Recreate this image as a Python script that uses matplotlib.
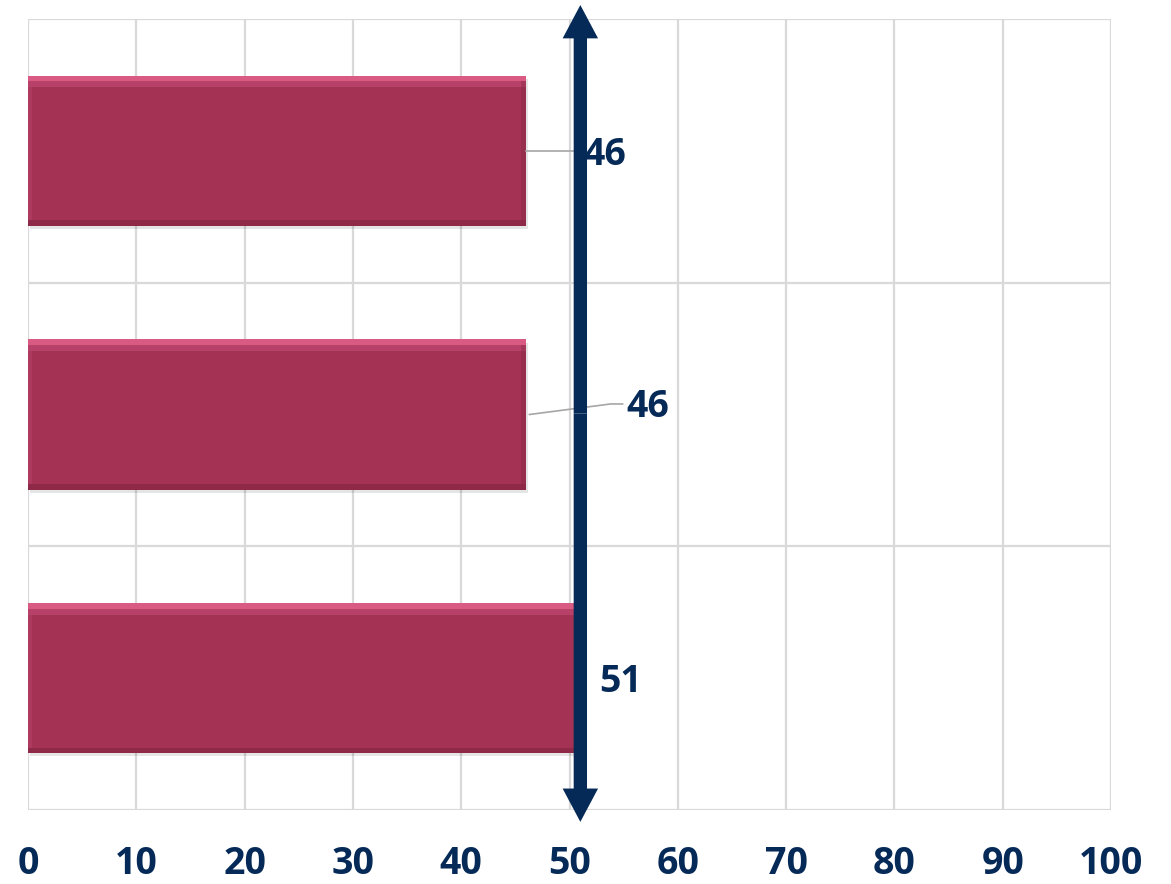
import matplotlib.pyplot as plt
from matplotlib.patches import FancyArrowPatch

plt.rcParams['font.family'] = ['Open Sans', 'DejaVu Sans']

# values, bottom bar first
values = [51, 46, 46]
ticks = list(range(0, 101, 10))
marker_value = 51

# where the value labels sit (x in data units, y offset from bar centre)
label_x = [54.7, 57.2, 53.3]
label_dy = [-0.015, 0.03, -0.015]

navy = '#052a57'
bar_col = '#a33254'
light = '#d95a82'
mid_light = '#b8416a'
dark = '#862844'
grid_col = '#d9d9d9'

fig = plt.figure(figsize=(11.71, 8.84), dpi=100)
ax = fig.add_axes([0.0239, 0.0837, 0.9249, 0.8948])

ys = list(range(len(values)))
h = 0.57
t = 0.022

# soft shadow under each bar
ax.barh([y - 0.012 for y in ys], values, height=h, left=0.15,
        color='#000000', alpha=0.10, zorder=2)
ax.barh(ys, values, height=h, color=bar_col, zorder=3)
# bevel strips
ax.barh([y + h / 2 - t / 2 for y in ys], values, height=t, color=light, zorder=4)
ax.barh([y + h / 2 - t * 1.5 for y in ys], values, height=t,
        color=mid_light, zorder=4)
ax.barh([y - h / 2 + t / 2 for y in ys], values, height=t, color=dark,
        alpha=0.7, zorder=4)
ax.barh(ys, [0.45] * len(values), height=h - 2 * t, left=[v - 0.45 for v in values],
        color=dark, alpha=0.4, zorder=4)
ax.barh(ys, [0.4] * len(values), height=h - 2 * t, left=0,
        color=mid_light, alpha=0.5, zorder=4)

ax.set_xlim(0, 100)
ax.set_ylim(-0.5, len(values) - 0.5)

ax.set_xticks(ticks)
ax.set_xticklabels([str(v) for v in ticks], fontsize=27, fontweight='bold', color=navy)
ax.tick_params(axis='x', length=0, pad=25)
ax.set_yticks([y + 0.5 for y in range(-1, len(values))])
ax.tick_params(axis='y', length=0, labelleft=False)
ax.grid(True, color=grid_col, linewidth=1.6, zorder=0)
ax.set_axisbelow(True)
for s in ax.spines.values():
    s.set_visible(False)

# value labels with leader lines
for y, v, lx, dy in zip(ys, values, label_x, label_dy):
    ax.text(lx, y + dy, str(v), fontsize=27, fontweight='bold', color=navy,
            ha='center', va='center', zorder=7)
ax.plot([values[2], 50.5], [2.0, 2.0], color='#a6a6a6', lw=1.2, zorder=5)
ax.plot([values[1] + 0.3, 53.8, 54.9], [1.0, 1.04, 1.04], color='#a6a6a6', lw=1.2, zorder=5)

# double-headed marker arrow, drawn as two filled arrows from the middle
top = len(values) - 0.5 + 0.053
bot = -0.5 - 0.045
mid = (top + bot) / 2
for end in (top, bot):
    arr = FancyArrowPatch((marker_value, mid), (marker_value, end),
                          arrowstyle='simple,head_length=24,head_width=25.5,tail_width=9.6',
                          mutation_scale=1, shrinkA=0, shrinkB=0, lw=0,
                          color=navy, clip_on=False, zorder=6)
    ax.add_patch(arr)

fig.savefig('out.png', dpi=100)
